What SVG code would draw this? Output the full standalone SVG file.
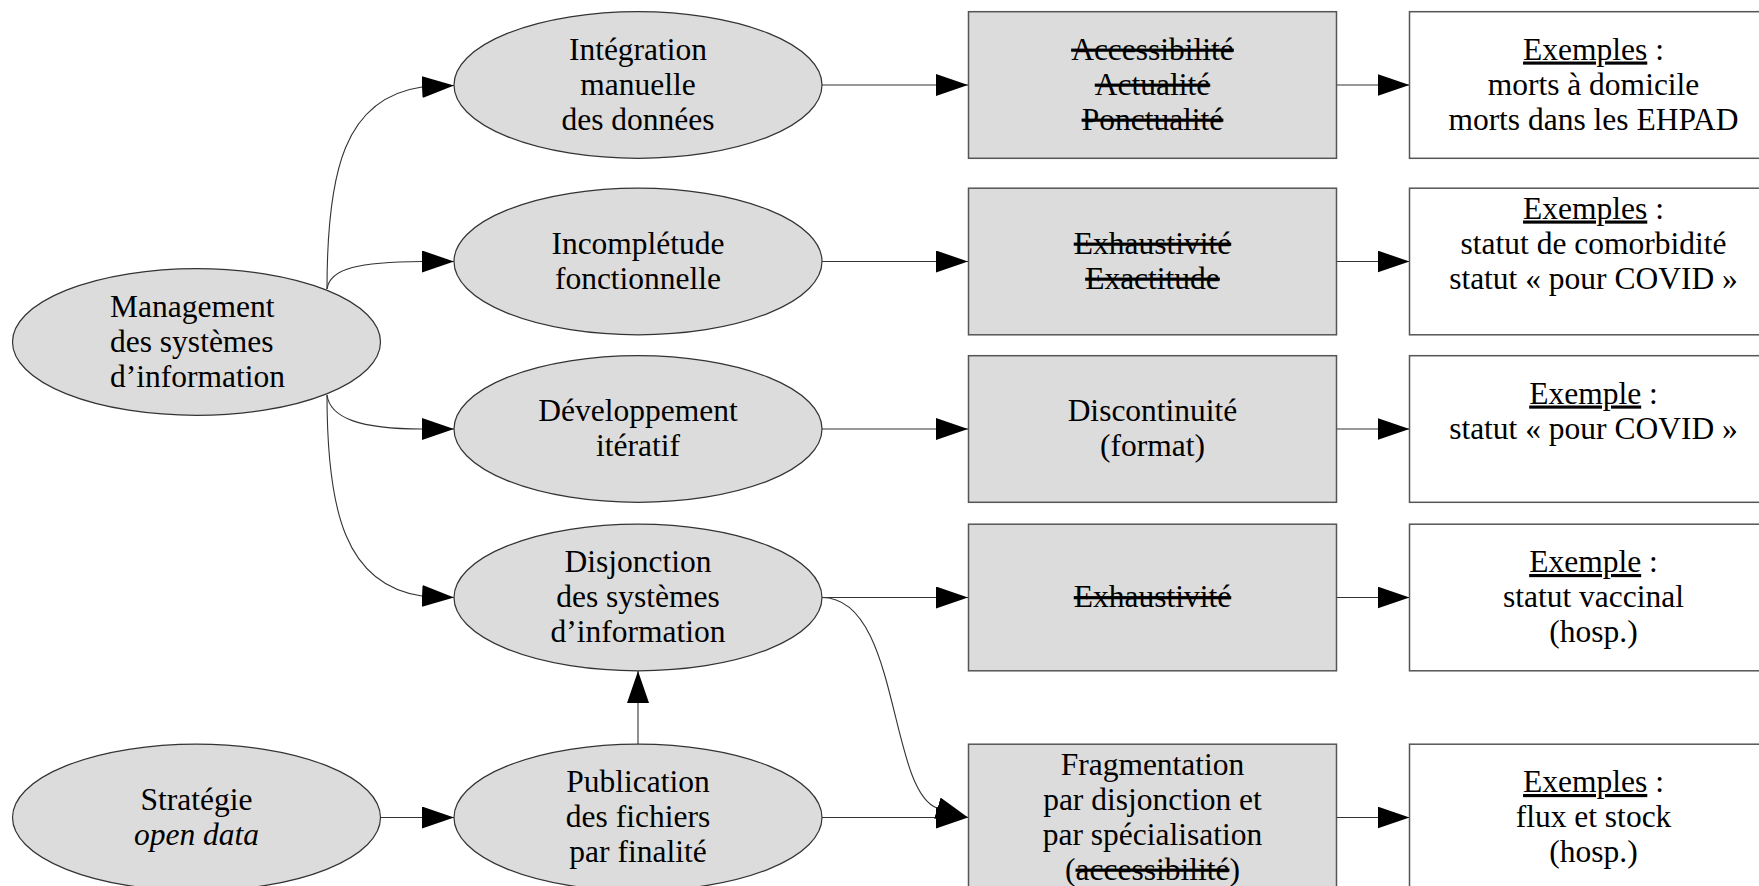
<svg xmlns="http://www.w3.org/2000/svg" width="1759" height="886" viewBox="0 0 1759 886">
<defs>
<marker id="arr" viewBox="0 0 32 22" refX="32" refY="11" markerWidth="32" markerHeight="22" markerUnits="userSpaceOnUse" orient="auto">
<path d="M0,0 L32,11 L0,22 z" fill="#000"/>
</marker>
<style>
.ell{fill:#dcdcdc;stroke:#333;stroke-width:1.2}
.gbox{fill:#dcdcdc;stroke:#555;stroke-width:1.5}
.wbox{fill:#fff;stroke:#555;stroke-width:1.5}
.t{font-family:"Liberation Serif","Times New Roman",serif;font-size:31.5px;fill:#000;text-anchor:middle}
.tl{text-anchor:start}
.s{text-decoration:line-through}
.u{text-decoration:underline}
.i{font-style:italic}
.edge{fill:none;stroke:#333;stroke-width:1.1;marker-end:url(#arr)}
</style>
</defs>
<rect width="1759" height="886" fill="#fff"/>

<g id="connectors">
<path class="edge" d="M327,289 C327,170 345,98 422,87 L454,85.5"/>
<path class="edge" d="M327,289 C330,268 360,262 422,261.5 L454,261.5"/>
<path class="edge" d="M327,395 C330,418 360,429 422,429 L454,429"/>
<path class="edge" d="M327,395 C327,510 345,585 422,596 L454,597.5"/>
<path class="edge" d="M822,85 L968,85"/>
<path class="edge" d="M822,261.5 L968,261.5"/>
<path class="edge" d="M822,429 L968,429"/>
<path class="edge" d="M822,597.5 L968,597.5"/>
<path class="edge" d="M822,817.5 L968,817.5"/>
<path class="edge" d="M822,597.5 C900,597.5 888,790 937,808 L968,817.5"/>
<path class="edge" d="M1337,85 L1409.5,85"/>
<path class="edge" d="M1337,261.5 L1409.5,261.5"/>
<path class="edge" d="M1337,429 L1409.5,429"/>
<path class="edge" d="M1337,597.5 L1409.5,597.5"/>
<path class="edge" d="M1337,817.5 L1409.5,817.5"/>
<path class="edge" d="M380.5,817.5 L454,817.5"/>
<path class="edge" d="M638,744 L638,671"/>
</g>

<g id="management">
<ellipse class="ell" cx="196.5" cy="342" rx="184" ry="73.3"/>
<text class="t tl" x="110" y="316.5">Management</text>
<text class="t tl" x="110" y="351.5">des systèmes</text>
<text class="t tl" x="110" y="386.5">d’information</text>
</g>

<g id="strategie">
<ellipse class="ell" cx="196.5" cy="817.5" rx="184" ry="73.3"/>
<text class="t" x="196.5" y="809.5">Stratégie</text>
<text class="t i" x="196.5" y="844.5">open data</text>
</g>

<g id="integration">
<ellipse class="ell" cx="638" cy="85" rx="184" ry="73.3"/>
<text class="t" x="638" y="59.5">Intégration</text>
<text class="t" x="638" y="94.5">manuelle</text>
<text class="t" x="638" y="129.5">des données</text>
</g>

<g id="incompletude">
<ellipse class="ell" cx="638" cy="261.5" rx="184" ry="73.3"/>
<text class="t" x="638" y="253.5">Incomplétude</text>
<text class="t" x="638" y="288.5">fonctionnelle</text>
</g>

<g id="developpement">
<ellipse class="ell" cx="638" cy="429" rx="184" ry="73.3"/>
<text class="t" x="638" y="421">Développement</text>
<text class="t" x="638" y="456">itératif</text>
</g>

<g id="disjonction">
<ellipse class="ell" cx="638" cy="597.5" rx="184" ry="73.3"/>
<text class="t" x="638" y="572">Disjonction</text>
<text class="t" x="638" y="607">des systèmes</text>
<text class="t" x="638" y="642">d’information</text>
</g>

<g id="publication">
<ellipse class="ell" cx="638" cy="817.5" rx="184" ry="73.3"/>
<text class="t" x="638" y="792">Publication</text>
<text class="t" x="638" y="827">des fichiers</text>
<text class="t" x="638" y="862">par finalité</text>
</g>

<g id="q1">
<rect class="gbox" x="968.5" y="11.7" width="368" height="146.6"/>
<text class="t s" x="1152.5" y="59.5">Accessibilité</text>
<text class="t s" x="1152.5" y="94.5">Actualité</text>
<text class="t s" x="1152.5" y="129.5">Ponctualité</text>
</g>

<g id="q2">
<rect class="gbox" x="968.5" y="188.2" width="368" height="146.6"/>
<text class="t s" x="1152.5" y="253.5">Exhaustivité</text>
<text class="t s" x="1152.5" y="288.5">Exactitude</text>
</g>

<g id="q3">
<rect class="gbox" x="968.5" y="355.7" width="368" height="146.6"/>
<text class="t" x="1152.5" y="421">Discontinuité</text>
<text class="t" x="1152.5" y="456">(format)</text>
</g>

<g id="q4">
<rect class="gbox" x="968.5" y="524.2" width="368" height="146.6"/>
<text class="t s" x="1152.5" y="607">Exhaustivité</text>
</g>

<g id="q5">
<rect class="gbox" x="968.5" y="744.2" width="368" height="146.6"/>
<text class="t" x="1152.5" y="774.5">Fragmentation</text>
<text class="t" x="1152.5" y="809.5">par disjonction et</text>
<text class="t" x="1152.5" y="844.5">par spécialisation</text>
<text class="t" x="1152.5" y="879.5">(<tspan class="s">accessibilité</tspan>)</text>
</g>

<g id="ex1">
<rect class="wbox" x="1409.5" y="11.7" width="368" height="146.6"/>
<text class="t" x="1593.5" y="59.5"><tspan class="u">Exemples</tspan> :</text>
<text class="t" x="1593.5" y="94.5">morts à domicile</text>
<text class="t" x="1593.5" y="129.5">morts dans les EHPAD</text>
</g>

<g id="ex2">
<rect class="wbox" x="1409.5" y="188.2" width="368" height="146.6"/>
<text class="t" x="1593.5" y="218.5"><tspan class="u">Exemples</tspan> :</text>
<text class="t" x="1593.5" y="253.5">statut de comorbidité</text>
<text class="t" x="1593.5" y="288.5">statut « pour COVID »</text>
</g>

<g id="ex3">
<rect class="wbox" x="1409.5" y="355.7" width="368" height="146.6"/>
<text class="t" x="1593.5" y="403.5"><tspan class="u">Exemple</tspan> :</text>
<text class="t" x="1593.5" y="438.5">statut « pour COVID »</text>
</g>

<g id="ex4">
<rect class="wbox" x="1409.5" y="524.2" width="368" height="146.6"/>
<text class="t" x="1593.5" y="572"><tspan class="u">Exemple</tspan> :</text>
<text class="t" x="1593.5" y="607">statut vaccinal</text>
<text class="t" x="1593.5" y="642">(hosp.)</text>
</g>

<g id="ex5">
<rect class="wbox" x="1409.5" y="744.2" width="368" height="146.6"/>
<text class="t" x="1593.5" y="792"><tspan class="u">Exemples</tspan> :</text>
<text class="t" x="1593.5" y="827">flux et stock</text>
<text class="t" x="1593.5" y="862">(hosp.)</text>
</g>
</svg>
